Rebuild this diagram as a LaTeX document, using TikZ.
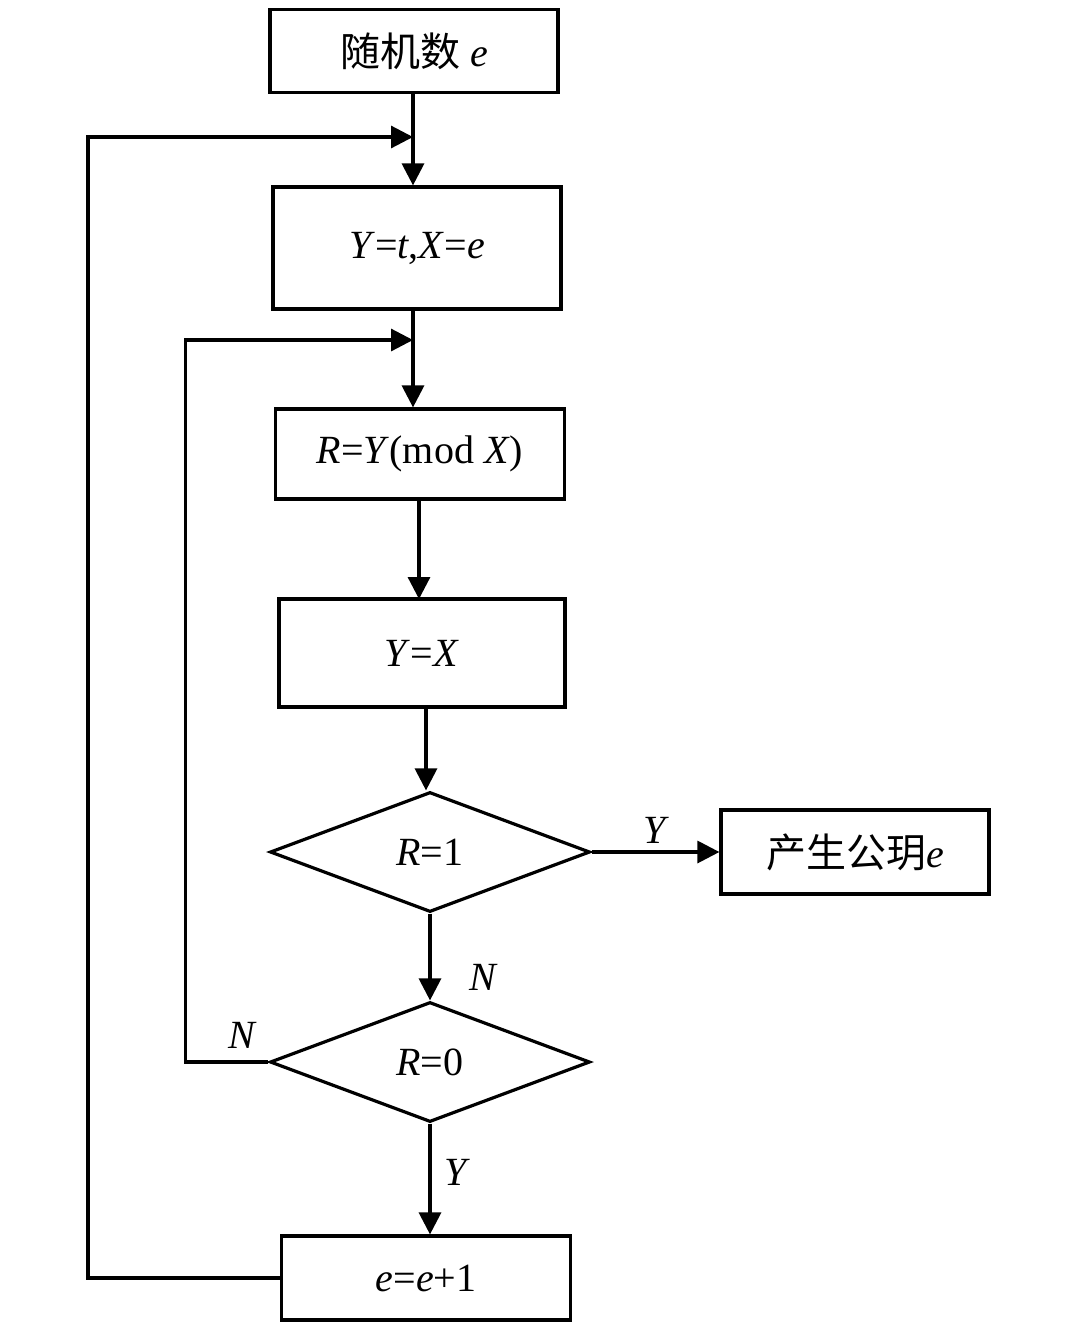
\documentclass[tikz,border=0pt]{standalone}
\usepackage{fontspec}
\setmainfont{Liberation Serif}
\newfontfamily\cjk{Noto Sans CJK SC}
\usetikzlibrary{arrows.meta,shapes.geometric}

\begin{document}
\begin{tikzpicture}[x=0.5pt, y=-0.5pt,
    box/.style={draw, line width=1.6pt, inner sep=0pt, font=\fontsize{20}{24}\selectfont},
    dec/.style={draw, diamond, line width=1.6pt, inner sep=0pt, minimum width=160pt, minimum height=60pt, font=\fontsize{20}{24}\selectfont},
    lin/.style={line width=1.6pt},
    arr/.style={lin, -{Triangle[length=11pt,width=11pt]}},
    lab/.style={font=\fontsize{20}{24}\selectfont\itshape}]
    \useasboundingbox (0,0) rectangle (1080,1329);

    % Draw boxes
    \node[box, minimum width=144pt, minimum height=41.5pt] (rand) at (414,51) {{\cjk 随机数} \textit{e}};
    \node[box, minimum width=144pt, minimum height=61pt] (init) at (417,248) {\textit{Y}=\textit{t},\textit{X}=\textit{e}};
    \node[box, minimum width=144.5pt, minimum height=45pt] (modr) at (420,454) {\textit{R}=\textit{Y}(mod \textit{X})};
    \node[box, minimum width=143pt, minimum height=54pt] (sety) at (422,653) {\textit{Y}=\textit{X}};
    \node[dec] (isone) at (430,852) {\textit{R}=1};
    \node[box, minimum width=134pt, minimum height=42pt] (pub) at (855,852) {{\cjk 产生公玥}\textit{e}};
    \node[dec] (iszero) at (430,1062) {\textit{R}=0};
    \node[box, minimum width=144.5pt, minimum height=42pt] (inc) at (426,1278) {\textit{e}=\textit{e}+1};

    % Draw joints of the loops
    \coordinate (ja) at (413,137);
    \coordinate (jb) at (413,340);

    % Draw main flow
    \draw[arr] (rand.south -| ja) -- (init.north -| ja);
    \draw[arr] (init.south -| jb) -- (modr.north -| jb);
    \draw[arr] (419,499) -- (419,599);
    \draw[arr] (426,707) -- (isone.north -| 426,0);
    \draw[arr] (isone.south) -- (iszero.north);
    \draw[arr] (iszero.south) -- (inc.north -| iszero.south);
    \draw[arr] (isone.east) -- (pub.west);

    % Draw loops
    \draw[arr] (inc.west) -- ++(-192,0) |- (ja);
    \draw[arr] (iszero.west) -- ++(-83,0) |- (jb);

    % Labels
    \node[lab] (ly1) at (655,830) {Y};
    \node[lab] (ln1) at (483,977) {N};
    \node[lab] (ln0) at (242,1035) {N};
    \node[lab] (ly0) at (456,1172) {Y};
\end{tikzpicture}
\end{document}
